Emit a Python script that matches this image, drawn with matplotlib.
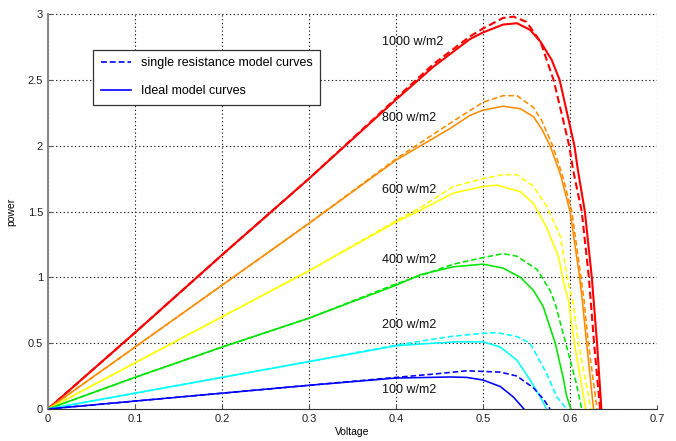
import numpy as np
import matplotlib.pyplot as plt

plt.rcParams['font.family'] = ['Liberation Sans', 'DejaVu Sans']

# irradiance levels, label text and colour per curve
levels = ["1000 w/m2", "800 w/m2", "600 w/m2", "400 w/m2", "200 w/m2", "100 w/m2"]
colors = ['#ff0000', '#ff8c00', '#ffff00', '#00e600', '#00ffff', '#0000ff']

# ideal model curves (solid)
v_ideal_1000 = [0, 0.1, 0.2, 0.3, 0.4, 0.443, 0.485, 0.5, 0.523, 0.539, 0.554, 0.566, 0.579, 0.588, 0.605, 0.609, 0.617, 0.625, 0.631, 0.636]
p_ideal_1000 = [0, 0.58, 1.17, 1.75, 2.35, 2.6, 2.81, 2.86, 2.92, 2.93, 2.88, 2.79, 2.65, 2.5, 2.0, 1.815, 1.5, 1.0, 0.5, 0]
v_ideal_800 = [0, 0.1, 0.2, 0.3, 0.4, 0.462, 0.485, 0.5, 0.523, 0.543, 0.558, 0.568, 0.577, 0.589, 0.6, 0.611, 0.614, 0.619, 0.627]
p_ideal_800 = [0, 0.47, 0.94, 1.41, 1.89, 2.13, 2.23, 2.27, 2.30, 2.28, 2.22, 2.12, 2.0, 1.78, 1.5, 1.0, 0.83, 0.5, 0]
v_ideal_600 = [0, 0.1, 0.2, 0.3, 0.4, 0.428, 0.466, 0.5, 0.516, 0.543, 0.558, 0.573, 0.587, 0.593, 0.598, 0.605, 0.618]
p_ideal_600 = [0, 0.35, 0.7, 1.05, 1.42, 1.51, 1.64, 1.69, 1.70, 1.65, 1.56, 1.38, 1.15, 0.95, 0.83, 0.5, 0]
v_ideal_400 = [0, 0.1, 0.2, 0.3, 0.4, 0.428, 0.466, 0.5, 0.523, 0.543, 0.558, 0.569, 0.583, 0.592, 0.596, 0.601]
p_ideal_400 = [0, 0.24, 0.47, 0.69, 0.94, 1.02, 1.08, 1.10, 1.07, 1.0, 0.9, 0.78, 0.5, 0.24, 0.1, 0]
v_ideal_200 = [0, 0.1, 0.2, 0.3, 0.4, 0.443, 0.47, 0.5, 0.52, 0.539, 0.554, 0.566, 0.573]
p_ideal_200 = [0, 0.12, 0.24, 0.36, 0.48, 0.50, 0.51, 0.51, 0.47, 0.37, 0.22, 0.09, 0]
v_ideal_100 = [0, 0.1, 0.2, 0.3, 0.4, 0.462, 0.481, 0.5, 0.52, 0.535, 0.547]
p_ideal_100 = [0, 0.06, 0.12, 0.18, 0.235, 0.243, 0.24, 0.22, 0.17, 0.09, 0]

# single resistance model curves (dashed)
v_single_1000 = [0, 0.1, 0.2, 0.3, 0.4, 0.443, 0.485, 0.5, 0.523, 0.535, 0.55, 0.566, 0.581, 0.589, 0.599, 0.6035, 0.6134, 0.6216, 0.6276, 0.6345]
p_single_1000 = [0, 0.58, 1.17, 1.75, 2.36, 2.62, 2.83, 2.89, 2.97, 2.98, 2.94, 2.79, 2.5, 2.28, 2.0, 1.815, 1.5, 1.0, 0.5, 0]
v_single_800 = [0, 0.1, 0.2, 0.3, 0.4, 0.462, 0.5, 0.523, 0.539, 0.558, 0.5675, 0.58, 0.591, 0.602, 0.6125, 0.616, 0.621, 0.631]
p_single_800 = [0, 0.47, 0.94, 1.41, 1.9, 2.17, 2.33, 2.38, 2.38, 2.29, 2.19, 2.0, 1.78, 1.5, 1.0, 0.83, 0.5, 0]
v_single_600 = [0, 0.1, 0.2, 0.3, 0.4, 0.428, 0.466, 0.5, 0.523, 0.539, 0.558, 0.573, 0.589, 0.598, 0.603, 0.6096, 0.624]
p_single_600 = [0, 0.35, 0.7, 1.05, 1.43, 1.53, 1.69, 1.75, 1.78, 1.78, 1.69, 1.54, 1.31, 0.95, 0.83, 0.5, 0]
v_single_400 = [0, 0.1, 0.2, 0.3, 0.4, 0.466, 0.5, 0.523, 0.539, 0.562, 0.577, 0.583, 0.595, 0.607, 0.6134]
p_single_400 = [0, 0.24, 0.47, 0.69, 0.95, 1.1, 1.15, 1.18, 1.16, 1.06, 0.9, 0.8, 0.5, 0.2, 0]
v_single_200 = [0, 0.1, 0.2, 0.3, 0.4, 0.462, 0.5, 0.516, 0.539, 0.554, 0.573, 0.585, 0.596]
p_single_200 = [0, 0.12, 0.24, 0.36, 0.485, 0.55, 0.575, 0.58, 0.55, 0.5, 0.27, 0.09, 0]
v_single_100 = [0, 0.1, 0.2, 0.3, 0.4, 0.443, 0.481, 0.52, 0.539, 0.558, 0.57, 0.577]
p_single_100 = [0, 0.06, 0.12, 0.18, 0.24, 0.265, 0.29, 0.28, 0.25, 0.16, 0.07, 0]

# where the irradiance labels sit (data coords)
label_v = 0.384
label_p = [2.79, 2.21, 1.66, 1.13, 0.64, 0.145]

ideal = [(v_ideal_1000, p_ideal_1000), (v_ideal_800, p_ideal_800), (v_ideal_600, p_ideal_600),
         (v_ideal_400, p_ideal_400), (v_ideal_200, p_ideal_200), (v_ideal_100, p_ideal_100)]
single = [(v_single_1000, p_single_1000), (v_single_800, p_single_800), (v_single_600, p_single_600),
          (v_single_400, p_single_400), (v_single_200, p_single_200), (v_single_100, p_single_100)]

fig = plt.figure(figsize=(6.76, 4.41), dpi=100)
ax = fig.add_axes([0.071, 0.0726, 0.901, 0.8956])

dash = (0, (3.5, 1.8))
for i, c in enumerate(colors):
    lw = 1.5 if i == 0 else 1.15
    ax.plot(*single[i], color=c, lw=lw, linestyle=dash)
    ax.plot(*ideal[i], color=c, lw=lw)
    ax.text(label_v, label_p[i], levels[i], fontsize=9, va='center', ha='left', color='#111111')

# legend proxies
h1, = ax.plot([], [], color='#0000ff', lw=1.2, linestyle=dash)
h2, = ax.plot([], [], color='#0000ff', lw=1.2)
leg = ax.legend([h1, h2], ["single resistance model curves", "Ideal model curves"],
                loc='upper left', bbox_to_anchor=(0.074, 0.909), borderaxespad=0,
                fontsize=9, fancybox=False, framealpha=1, edgecolor='#333333',
                handlelength=2.4, handletextpad=0.8, labelspacing=1.25,
                borderpad=0.6)
leg.get_frame().set_linewidth(0.9)

ax.set_xlim(0, 0.7)
ax.set_ylim(0, 3)
ax.set_xticks(np.arange(0, 0.71, 0.1))
ax.set_xticklabels(['0', '0.1', '0.2', '0.3', '0.4', '0.5', '0.6', '0.7'])
ax.set_yticks(np.arange(0, 3.01, 0.5))
ax.set_yticklabels(['0', '0.5', '1', '1.5', '2', '2.5', '3'])
ax.grid(True, linestyle=(0, (1.2, 2.2)), color='#222222', lw=0.8)
ax.tick_params(direction='in', labelsize=8, labelcolor='#222222', length=3, color='#555555')
for s in ['top', 'right']:
    ax.spines[s].set_visible(False)
ax.spines['left'].set_color('#888888')
ax.spines['left'].set_linewidth(1.5)
ax.spines['bottom'].set_color('#333333')
ax.set_xlabel('Voltage', fontsize=7.5, labelpad=2)
ax.set_ylabel('power', fontsize=7.5, labelpad=8)

fig.savefig('out.png', dpi=100)
